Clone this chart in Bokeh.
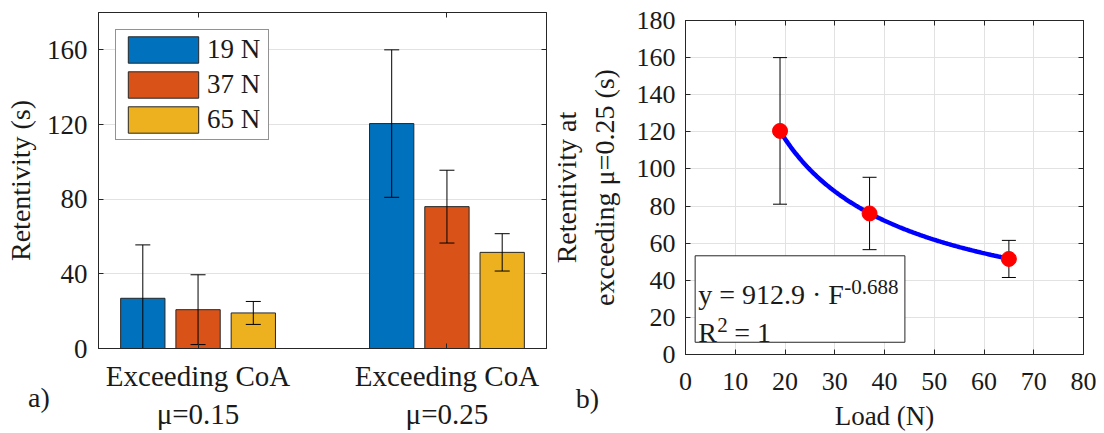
import numpy as np
from bokeh.plotting import figure
from bokeh.layouts import row
from bokeh.models import (FixedTicker, LinearAxis, Range1d, Label, BoxAnnotation)
from bokeh.embed import file_html
from bokeh.resources import INLINE

# ---------------- data ----------------
group_line1 = ["Exceeding CoA", "Exceeding CoA"]
group_line2 = ["μ=0.15", "μ=0.25"]
loads = [19, 37, 65]
load_labels = ["19 N", "37 N", "65 N"]
mean_mu015 = [26.9, 20.8, 19.05]
err_mu015 = [28.6, 18.7, 6.15]
mean_mu025 = [120.5, 76.0, 51.5]
err_mu025 = [39.5, 19.5, 10.0]
fit_a = 912.9
fit_b = -0.688
fit_text = "y = 912.9 · F"
fit_exp_text = "-0.688"
r2_base, r2_sup, r2_rest = "R", "2", "= 1"
left_yticks = [0, 40, 80, 120, 160]
right_yticks = [0, 20, 40, 60, 80, 100, 120, 140, 160, 180]
right_xticks = [0, 10, 20, 30, 40, 50, 60, 70, 80]
panel_a, panel_b = "a)", "b)"

# ---------------- style ----------------
FONT = "Liberation Serif"
AX = "#262626"
TXT = "#1a1a1a"
GRID = "#e2e2e2"
NBSP = "\u00a0"
bar_colors = ["#0072BD", "#D95319", "#EDB120"]
offsets = [-0.222, 0.0, 0.222]
bar_w = 0.178


def style_axis(ax, ticks, labelsize="27px"):
    ax.ticker = FixedTicker(ticks=ticks)
    ax.major_tick_in = 5
    ax.major_tick_out = 0
    ax.minor_tick_line_color = None
    ax.axis_line_color = AX
    ax.major_tick_line_color = AX
    ax.major_label_text_font = FONT
    ax.major_label_text_font_size = labelsize
    ax.major_label_text_color = TXT
    ax.axis_label_text_font = FONT
    ax.axis_label_text_font_style = "normal"
    ax.axis_label_text_font_size = "28px"
    ax.axis_label_text_color = TXT


def text_axis(ticks, overrides, size, standoff):
    ax = LinearAxis(ticker=FixedTicker(ticks=ticks))
    style_axis(ax, ticks, size)
    ax.axis_line_color = None
    ax.major_tick_line_color = None
    ax.major_tick_in = 0
    ax.major_label_overrides = overrides
    ax.major_label_standoff = standoff
    return ax


def mirror_axis(p, ticks, side):
    ax = LinearAxis(ticker=FixedTicker(ticks=ticks))
    ax.major_tick_in = 5
    ax.major_tick_out = 0
    ax.minor_tick_line_color = None
    ax.axis_line_color = AX
    ax.major_tick_line_color = AX
    ax.major_label_text_font_size = "0px"
    ax.major_label_overrides = {t: "" for t in ticks}
    ax.major_label_standoff = 0
    ax.axis_label_standoff = 0
    p.add_layout(ax, side)


# ---------------- left: grouped bars ----------------
p1 = figure(width=548, height=433, x_range=Range1d(0.6, 2.4), y_range=Range1d(0, 180),
            output_backend="svg", toolbar_location=None,
            min_border_left=98, min_border_right=2, min_border_top=12, min_border_bottom=85)
p1.frame_align = False
p1.outline_line_color = AX
p1.xgrid.grid_line_color = None
p1.ygrid.grid_line_color = GRID
p1.ygrid.ticker = FixedTicker(ticks=left_yticks)

groups_x = [1, 2]
for i in range(3):
    xs = [g + offsets[i] for g in groups_x]
    tops = [mean_mu015[i], mean_mu025[i]]
    p1.vbar(x=xs, top=tops, width=bar_w, bottom=0, fill_color=bar_colors[i],
            line_color=AX, line_width=1, legend_label=load_labels[i])
for i in range(3):
    xs = [g + offsets[i] for g in groups_x]
    tops = [mean_mu015[i], mean_mu025[i]]
    errs = [err_mu015[i], err_mu025[i]]
    lo = [t - e for t, e in zip(tops, errs)]
    hi = [t + e for t, e in zip(tops, errs)]
    p1.segment(x0=xs, y0=lo, x1=xs, y1=hi, line_color="black", line_width=1)
    p1.scatter(x=xs, y=hi, marker="dash", size=15, line_color="black", line_width=1)
    p1.scatter(x=xs, y=lo, marker="dash", size=15, line_color="black", line_width=1)

style_axis(p1.xaxis[0], groups_x, "29px")
p1.xaxis[0].major_label_overrides = {1: group_line1[0], 2: group_line1[1]}
p1.xaxis[0].major_label_standoff = 11
# panel tag "a)" (centred on the frame's left edge, padded so it sits left of the axis)
p1.add_layout(text_axis([0.6], {0.6: panel_a + NBSP * 17}, "28px", -13), "below")
p1.add_layout(text_axis(groups_x, {1: group_line2[0], 2: group_line2[1]}, "29px", -18), "below")

style_axis(p1.yaxis[0], left_yticks)
p1.yaxis[0].major_label_standoff = 11
p1.yaxis[0].axis_label = "Retentivity (s)"
p1.yaxis[0].axis_label_standoff = 8
mirror_axis(p1, left_yticks, "right")
mirror_axis(p1, groups_x, "above")

lg = p1.legend[0]
lg.location = "top_left"
lg.margin = 17
lg.padding = 3
lg.spacing = 2
lg.glyph_width = 88
lg.glyph_height = 33
lg.label_height = 33
lg.label_width = 58
lg.label_standoff = 0
lg.label_text_font = FONT
lg.label_text_font_size = "27px"
lg.label_text_color = TXT
lg.border_line_color = AX
lg.border_line_width = 1
lg.background_fill_alpha = 1

# ---------------- right: power fit ----------------
p2 = figure(width=548, height=433, x_range=Range1d(0, 80), y_range=Range1d(0, 180),
            output_backend="svg", toolbar_location=None,
            min_border_left=134, min_border_right=13, min_border_top=20, min_border_bottom=78)
p2.frame_align = False
p2.outline_line_color = AX
p2.xgrid.grid_line_color = GRID
p2.ygrid.grid_line_color = GRID
p2.xgrid.ticker = FixedTicker(ticks=right_xticks)
p2.ygrid.ticker = FixedTicker(ticks=right_yticks)

lo2 = [m - e for m, e in zip(mean_mu025, err_mu025)]
hi2 = [m + e for m, e in zip(mean_mu025, err_mu025)]
p2.segment(x0=loads, y0=lo2, x1=loads, y1=hi2, line_color="black", line_width=1)
p2.scatter(x=loads, y=hi2, marker="dash", size=14, line_color="black", line_width=1)
p2.scatter(x=loads, y=lo2, marker="dash", size=14, line_color="black", line_width=1)

fx = np.linspace(loads[0], loads[-1], 200)
fy = fit_a * fx ** fit_b
p2.line(fx, fy, line_color="#0000FF", line_width=4.5)
p2.scatter(x=loads, y=mean_mu025, size=15, fill_color="#FF0000", line_color="#FF0000")

style_axis(p2.xaxis[0], right_xticks, "26px")
p2.xaxis[0].major_label_standoff = 18
# panel tag "b)" plus the x-axis title
bx = text_axis([0], {0: panel_b + NBSP * 28}, "28px", -10)
bx.axis_label = "Load (N)"
bx.axis_label_text_font_size = "27px"
bx.axis_label_standoff = -16
p2.add_layout(bx, "below")

style_axis(p2.yaxis[0], right_yticks, "26px")
p2.yaxis[0].major_label_standoff = 10
p2.yaxis[0].axis_label = "Retentivity at\nexceeding μ=0.25 (s)"
p2.yaxis[0].axis_label_standoff = 14
mirror_axis(p2, right_yticks, "right")
mirror_axis(p2, right_xticks, "above")

p2.add_layout(BoxAnnotation(left=1.94, right=44.1, bottom=6.6, top=53.2,
                            fill_color="white", fill_alpha=1.0,
                            line_color=AX, line_width=1, line_alpha=1.0))
p2.add_layout(Label(x=2.55, y=32.2, text=fit_text, text_font=FONT, text_font_size="28px",
                    text_color=TXT, text_baseline="alphabetic"))
p2.add_layout(Label(x=2.55, y=32.2, x_offset=146, y_offset=7.5, text=fit_exp_text,
                    text_font=FONT, text_font_size="21px", text_color=TXT,
                    text_baseline="alphabetic"))
p2.add_layout(Label(x=2.55, y=11.66, text=r2_base, text_font=FONT, text_font_size="28px",
                    text_color=TXT, text_baseline="alphabetic"))
p2.add_layout(Label(x=2.55, y=11.66, x_offset=19, y_offset=8.3, text=r2_sup, text_font=FONT,
                    text_font_size="21px", text_color=TXT, text_baseline="alphabetic"))
p2.add_layout(Label(x=2.55, y=11.66, x_offset=36, text=r2_rest, text_font=FONT,
                    text_font_size="28px", text_color=TXT, text_baseline="alphabetic"))

layout = row(p1, p2)
open("out.html", "w").write(file_html(layout, INLINE))
